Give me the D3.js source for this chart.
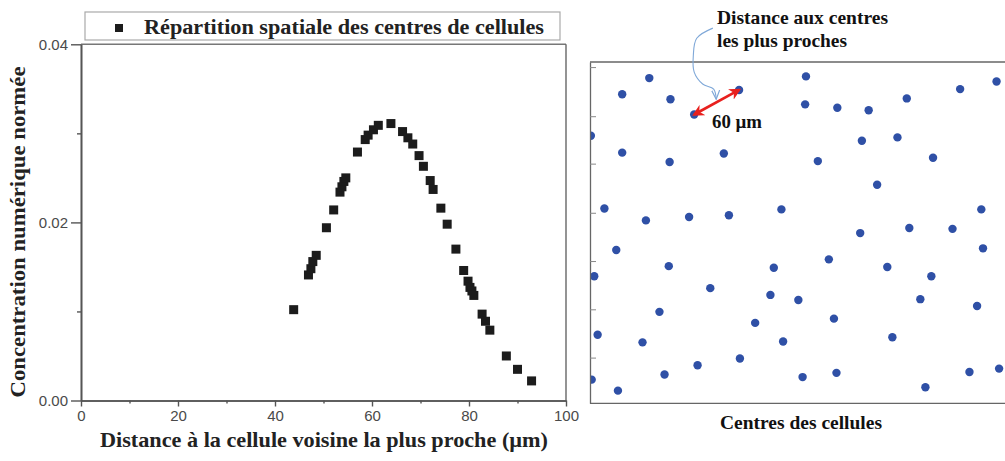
<!DOCTYPE html>
<html>
<head>
<meta charset="utf-8">
<script src="https://cdn.jsdelivr.net/npm/d3@7"></script>
<style>
  html, body { margin: 0; padding: 0; background: #fff; }
  svg { display: block; }
</style>
</head>
<body>
<svg id="chart" width="1005" height="461"></svg>
<script>
// ---------- Data: nearest-neighbour distance distribution ----------
const distances = [43.85, 46.9, 47.4, 47.8, 48.5, 50.6, 52.1, 53.4, 53.8, 54.2, 54.6, 57.0, 58.6, 59.2, 60.3, 61.3, 63.9, 66.3, 67.4, 68.4, 69.7, 70.6, 72.0, 72.6, 74.2, 75.5, 77.3, 78.9, 79.8, 80.2, 80.6, 81.0, 82.7, 83.4, 84.3, 87.7, 90.0, 92.9];
const concentrations = [0.0102, 0.0141, 0.0148, 0.0156, 0.0163, 0.0194, 0.0214, 0.0234, 0.0240, 0.0246, 0.0250, 0.0279, 0.0293, 0.0298, 0.0304, 0.0309, 0.0311, 0.0302, 0.0295, 0.0288, 0.0275, 0.0263, 0.0247, 0.0237, 0.0216, 0.0198, 0.0170, 0.0146, 0.0134, 0.0127, 0.0123, 0.0118, 0.0097, 0.0089, 0.0079, 0.0050, 0.0035, 0.0022];
const xMajorTicks = [0, 20, 40, 60, 80, 100];
const xMinorTicks = [10, 30, 50, 70, 90];
const yMajorTicks = [0, 0.02, 0.04];
const yMinorTicks = [0.01, 0.03];
const seriesName = "Répartition spatiale des centres de cellules";
const xTitle = "Distance à la cellule voisine la plus proche (µm)";
const yTitle = "Concentration numérique normée";

// ---------- Data: cell centres (µm) ----------
const cellX = [70, 38, 95, 123, 176, 255, 254, 292, 329, 374, 437, 480, 1, 38, 94, 158, 269, 321, 363, 405, 339, 17, 66, 117, 164, 226, 462, 319, 377, 428, 31, 464, 282, 93, 217, 351, 5, 403, 142, 213, 246, 390, 457, 82, 288, 195, 9, 62, 228, 357, 177, 127, 88, 2, 33, 251, 291, 396, 448, 483];
const cellY = [19, 38, 44, 62, 33, 17, 50, 54, 57, 43, 32, 23, 87, 107, 118, 108, 117, 93, 89, 113, 145, 173, 187, 183, 181, 174, 174, 202, 196, 197, 222, 220, 233, 241, 243, 242, 253, 253, 267, 275, 281, 280, 288, 295, 303, 308, 322, 331, 330, 325, 350, 358, 369, 375, 388, 372, 367, 384, 366, 362];
const panelTicks = [6, 64, 120, 178, 235, 292, 349];
const pairA = 3, pairB = 4;          // indices of the two highlighted cells (60 µm apart)
const calloutX = [145, 126, 122, 123, 133, 146, 149];
const calloutY = [-40, -28, -8, 12, 26, 32, 44];

const svg = d3.select("#chart");
const serif = "'Liberation Serif', 'Times New Roman', serif";
const sans = "'Liberation Sans', Arial, sans-serif";

// ================= Left chart =================
const x = d3.scaleLinear().domain([0, 100]).range([81, 566]);
const y = d3.scaleLinear().domain([0, 0.04]).range([400.5, 44.3]);
const axisColor = "#555";

const left = svg.append("g");

// top & right frame
left.append("line").attr("x1", x(0)).attr("x2", x(100)).attr("y1", y(0.04)).attr("y2", y(0.04))
  .attr("stroke", "#777").attr("stroke-width", 1.4);
left.append("line").attr("x1", x(100)).attr("x2", x(100)).attr("y1", y(0.04)).attr("y2", y(0))
  .attr("stroke", "#666").attr("stroke-width", 1.4);

function styleAxis(g) {
  g.select(".domain").attr("stroke", axisColor).attr("stroke-width", 1.6);
  g.selectAll(".tick line").attr("stroke", axisColor).attr("stroke-width", 1.4);
  g.selectAll(".tick text").attr("fill", "#4a4a4a").attr("font-family", sans).attr("font-size", 15);
}

// x axis
const gxMinor = left.append("g").attr("transform", `translate(0,${y(0)})`)
  .call(d3.axisBottom(x).tickValues(xMinorTicks).tickSize(3).tickSizeOuter(0).tickFormat(""));
styleAxis(gxMinor);
const gx = left.append("g").attr("transform", `translate(0,${y(0)})`)
  .call(d3.axisBottom(x).tickValues(xMajorTicks).tickSize(6).tickSizeOuter(0).tickPadding(4).tickFormat(d3.format("d")));
styleAxis(gx);

// y axis
const gyMinor = left.append("g").attr("transform", `translate(${x(0)},0)`)
  .call(d3.axisLeft(y).tickValues(yMinorTicks).tickSize(4).tickSizeOuter(0).tickFormat(""));
styleAxis(gyMinor);
const gy = left.append("g").attr("transform", `translate(${x(0)},0)`)
  .call(d3.axisLeft(y).tickValues(yMajorTicks).tickSize(10).tickSizeOuter(0).tickPadding(3).tickFormat(d3.format(".2f")));
styleAxis(gy);

// markers
const msize = 9;
left.append("g").selectAll("rect").data(distances.map((d, i) => [d, concentrations[i]]))
  .join("rect")
  .attr("x", d => x(d[0]) - msize / 2)
  .attr("y", d => y(d[1]) - msize / 2)
  .attr("width", msize).attr("height", msize)
  .attr("fill", "#1c1c1c");

// legend
const leg = left.append("g");
leg.append("rect").attr("x", 85).attr("y", 12).attr("width", 475).attr("height", 28)
  .attr("fill", "#fff").attr("stroke", "#aaa").attr("stroke-width", 1.2);
leg.append("rect").attr("x", 115).attr("y", 24).attr("width", 8).attr("height", 8).attr("fill", "#1c1c1c");
leg.append("text").attr("x", 144).attr("y", 33.5).text(seriesName)
  .attr("font-family", serif).attr("font-weight", "bold").attr("font-size", 20.5)
  .attr("fill", "#222").attr("textLength", 400).attr("lengthAdjust", "spacingAndGlyphs");

// axis titles
left.append("text").attr("x", 324).attr("y", 447).attr("text-anchor", "middle").text(xTitle)
  .attr("font-family", serif).attr("font-weight", "bold").attr("font-size", 21.5)
  .attr("fill", "#222").attr("textLength", 448).attr("lengthAdjust", "spacingAndGlyphs");
left.append("text").attr("transform", "translate(25,232) rotate(-90)").attr("text-anchor", "middle").text(yTitle)
  .attr("font-family", serif).attr("font-weight", "bold").attr("font-size", 22)
  .attr("fill", "#222").attr("textLength", 331).attr("lengthAdjust", "spacingAndGlyphs");

// ================= Right panel: cell centres =================
const k = 0.847;
const cx = d3.scaleLinear().domain([0, 490]).range([590, 590 + 490 * k]);
const cy = d3.scaleLinear().domain([0, 403]).range([62, 62 + 403 * k]);

const right = svg.append("g");
const defs = svg.append("defs");
defs.append("clipPath").attr("id", "panelClip")
  .append("rect").attr("x", cx(0)).attr("y", cy(0)).attr("width", 1005 - cx(0)).attr("height", cy(403) - cy(0));
defs.append("marker").attr("id", "redHead").attr("viewBox", "0 0 10 10").attr("refX", 8).attr("refY", 5)
  .attr("markerWidth", 4.5).attr("markerHeight", 4.5).attr("orient", "auto-start-reverse")
  .attr("markerUnits", "strokeWidth")
  .append("path").attr("d", "M0,0 L10,5 L0,10 L3,5 Z").attr("fill", "#e8201e");
defs.append("marker").attr("id", "blueHead").attr("viewBox", "0 0 10 10").attr("refX", 9).attr("refY", 5)
  .attr("markerWidth", 10).attr("markerHeight", 10).attr("orient", "auto")
  .attr("markerUnits", "userSpaceOnUse")
  .append("path").attr("d", "M0,1 L9,5 L0,9").attr("fill", "none").attr("stroke", "#7fa8d8").attr("stroke-width", 1.2);

const borderColor = "#666";
right.append("line").attr("x1", cx(0)).attr("x2", 1005).attr("y1", cy(0)).attr("y2", cy(0))
  .attr("stroke", borderColor).attr("stroke-width", 1.3);
right.append("line").attr("x1", cx(0)).attr("x2", 1005).attr("y1", cy(403)).attr("y2", cy(403))
  .attr("stroke", borderColor).attr("stroke-width", 1.3);

right.append("g").attr("clip-path", "url(#panelClip)").selectAll("circle").data(cellX.map((d, i) => [d, cellY[i]]))
  .join("circle")
  .attr("cx", d => cx(d[0])).attr("cy", d => cy(d[1])).attr("r", 4.2)
  .attr("fill", "#2f50a6");

const gp = right.append("g").attr("transform", `translate(${cx(0)},0)`)
  .call(d3.axisRight(cy).tickValues(panelTicks).tickSize(6).tickSizeOuter(0).tickFormat(""));
gp.select(".domain").attr("stroke", borderColor).attr("stroke-width", 1.3);
gp.selectAll(".tick line").attr("stroke", "#888").attr("stroke-width", 1);

// red double arrow between the pair
const a = [cx(cellX[pairA]), cy(cellY[pairA])], b = [cx(cellX[pairB]), cy(cellY[pairB])];
right.append("line").attr("x1", a[0]).attr("y1", a[1]).attr("x2", b[0]).attr("y2", b[1])
  .attr("stroke", "#e8201e").attr("stroke-width", 2.6)
  .attr("marker-start", "url(#redHead)").attr("marker-end", "url(#redHead)");

// blue callout
right.append("path")
  .attr("d", d3.line().x(d => cx(d[0])).y(d => cy(d[1])).curve(d3.curveCatmullRom)(calloutX.map((d, i) => [d, calloutY[i]])))
  .attr("fill", "none").attr("stroke", "#7fa8d8").attr("stroke-width", 1.1)
  .attr("marker-end", "url(#blueHead)");

const txt = (xx, yy, s, w) => right.append("text").attr("x", xx).attr("y", yy).text(s)
  .attr("font-family", serif).attr("font-weight", "bold").attr("font-size", 19)
  .attr("fill", "#111").attr("textLength", w).attr("lengthAdjust", "spacingAndGlyphs");
txt(717, 24, "Distance aux centres", 171);
txt(717, 47, "les plus proches", 130);
txt(712, 128, "60 µm", 50);
txt(720, 429, "Centres des cellules", 162);
</script>
</body>
</html>
